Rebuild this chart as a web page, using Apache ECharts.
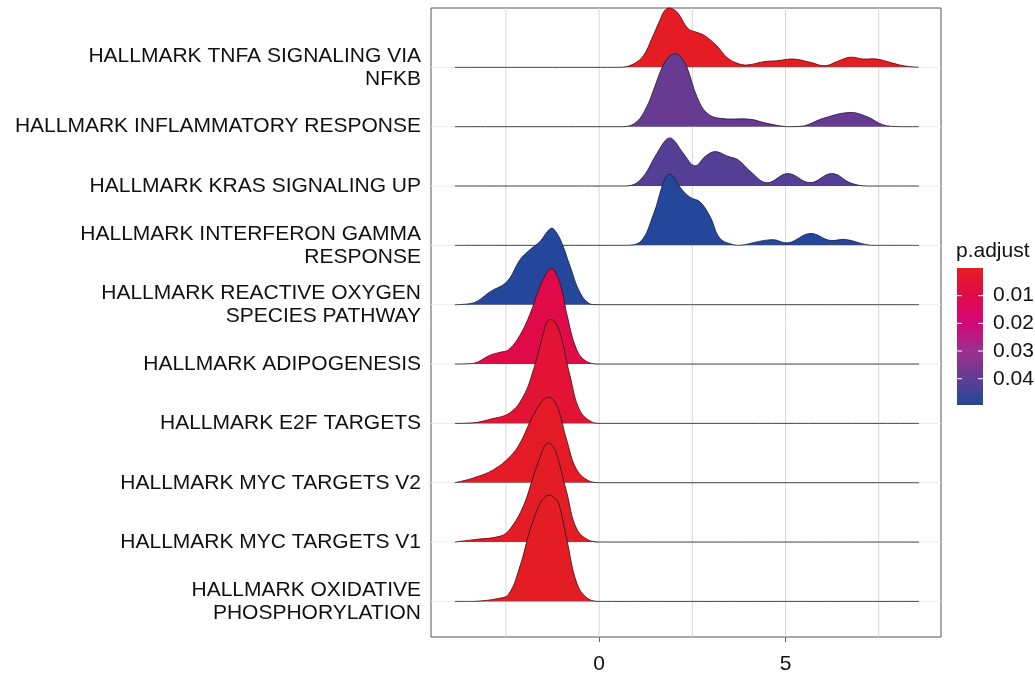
<!DOCTYPE html>
<html><head><meta charset="utf-8">
<script src="https://cdn.jsdelivr.net/npm/echarts@6/dist/echarts.min.js"></script>
<style>html,body{margin:0;padding:0;background:#fff}#c{width:1035px;height:673px}</style>
</head><body><div id="c"></div>
<script>
// Categories, top to bottom
const categories = [
  'HALLMARK TNFA SIGNALING VIA NFKB',
  'HALLMARK INFLAMMATORY RESPONSE',
  'HALLMARK KRAS SIGNALING UP',
  'HALLMARK INTERFERON GAMMA RESPONSE',
  'HALLMARK REACTIVE OXYGEN SPECIES PATHWAY',
  'HALLMARK ADIPOGENESIS',
  'HALLMARK E2F TARGETS',
  'HALLMARK MYC TARGETS V2',
  'HALLMARK MYC TARGETS V1',
  'HALLMARK OXIDATIVE PHOSPHORYLATION'
];
const pAdjust = [0.0005, 0.039, 0.042, 0.049, 0.049, 0.0105, 0.0055, 0.0015, 0.001, 0.0005];

// Density ridges: [x value, height in row units]
const ridgeTNFA = [[-3.87,0],[0.56,0],[0.92,0.056],[1.19,0.2],[1.41,0.48],[1.64,0.81],[1.75,0.95],[1.88,1.0],[2.01,0.97],[2.13,0.9],[2.39,0.65],[2.62,0.59],[2.84,0.53],[3.16,0.36],[3.42,0.17],[3.69,0.072],[3.96,0.039],[4.41,0.095],[4.76,0.11],[5.21,0.14],[5.66,0.084],[6.06,0.027],[6.37,0.095],[6.73,0.17],[7.09,0.14],[7.44,0.14],[7.80,0.084],[8.16,0.027],[8.58,0]];
const ridgeInflam = [[-3.87,0],[0.65,0],[1.01,0.084],[1.28,0.34],[1.46,0.62],[1.72,1.04],[1.90,1.19],[2.04,1.23],[2.18,1.18],[2.35,1.01],[2.62,0.51],[2.89,0.23],[3.24,0.14],[4.05,0.125],[4.50,0.056],[5.03,0],[5.48,0.01],[6.01,0.14],[6.73,0.24],[7.18,0.17],[7.62,0.03],[8.07,0],[8.58,0]];
const ridgeKRAS = [[-3.87,0],[0.70,0],[1.10,0.1],[1.55,0.55],[1.78,0.77],[1.90,0.81],[2.02,0.76],[2.26,0.55],[2.57,0.34],[2.85,0.50],[3.11,0.58],[3.45,0.50],[3.73,0.44],[4.05,0.25],[4.50,0.056],[5.06,0.21],[5.66,0.056],[6.24,0.21],[6.75,0.05],[7.18,0],[8.58,0]];
const ridgeIFNG = [[-3.87,0],[0.65,0],[1.10,0.056],[1.46,0.53],[1.68,0.98],[1.78,1.14],[1.89,1.20],[2.00,1.15],[2.17,0.98],[2.44,0.81],[2.71,0.73],[2.98,0.48],[3.24,0.12],[3.60,0.01],[3.78,0],[4.63,0.096],[5.08,0.045],[5.66,0.20],[6.19,0.084],[6.60,0.10],[7.18,0.01],[7.44,0],[8.58,0]];
const ridgeROS = [[-3.87,0],[-3.37,0.03],[-2.92,0.22],[-2.47,0.39],[-2.12,0.76],[-1.85,0.93],[-1.58,1.07],[-1.38,1.24],[-1.27,1.29],[-1.16,1.23],[-1.00,1.04],[-0.78,0.65],[-0.51,0.20],[-0.24,0.01],[0.03,0],[8.58,0]];
const ridgeAdipo = [[-3.87,0],[-3.37,0.01],[-2.92,0.15],[-2.65,0.20],[-2.43,0.24],[-2.12,0.49],[-1.85,0.85],[-1.62,1.25],[-1.42,1.52],[-1.29,1.61],[-1.16,1.53],[-0.98,1.2],[-0.87,0.85],[-0.60,0.24],[-0.33,0.04],[0.03,0],[8.58,0]];
const ridgeE2F = [[-3.87,0],[-3.37,0.01],[-2.92,0.07],[-2.39,0.18],[-2.03,0.46],[-1.76,0.91],[-1.49,1.53],[-1.40,1.70],[-1.29,1.75],[-1.18,1.70],[-1.05,1.53],[-0.78,0.80],[-0.51,0.21],[-0.15,0.01],[0.10,0],[8.58,0]];
const ridgeMYCV2 = [[-3.87,0],[-3.37,0.08],[-2.83,0.22],[-2.39,0.44],[-2.12,0.67],[-1.85,1.03],[-1.58,1.34],[-1.47,1.41],[-1.36,1.44],[-1.24,1.40],[-1.09,1.23],[-0.87,0.72],[-0.60,0.22],[-0.24,0.02],[0.10,0],[8.58,0]];
const ridgeMYCV1 = [[-3.87,0],[-3.37,0.04],[-2.65,0.10],[-2.39,0.22],[-2.03,0.61],[-1.76,1.12],[-1.54,1.51],[-1.46,1.62],[-1.36,1.67],[-1.25,1.62],[-1.13,1.46],[-0.87,0.84],[-0.60,0.22],[-0.24,0.02],[0.10,0],[8.58,0]];
const ridgeOXPHOS = [[-3.87,0],[-3.37,0],[-2.74,0.045],[-2.43,0.12],[-2.12,0.60],[-1.85,1.21],[-1.58,1.66],[-1.46,1.75],[-1.34,1.79],[-1.22,1.75],[-1.09,1.66],[-0.87,1.05],[-0.60,0.31],[-0.33,0.06],[0.03,0],[8.58,0]];
const ridges = [ridgeTNFA, ridgeInflam, ridgeKRAS, ridgeIFNG, ridgeROS, ridgeAdipo, ridgeE2F, ridgeMYCV2, ridgeMYCV1, ridgeOXPHOS];

const xTickLabels = [0, 5];
const xGridValues = [-2.5, 0, 2.5, 5, 7.5];
const legendBreaks = [0.01, 0.02, 0.03, 0.04];
const legendMin = 0, legendMax = 0.0495;

// colour scale for p.adjust
const colorStops = [[0,'#E41E22'],[0.01,'#E20A46'],[0.02,'#D3077A'],[0.03,'#9E2F8D'],[0.04,'#623C92'],[0.0495,'#22489B']];
function hex2rgb(h){return [parseInt(h.substr(1,2),16),parseInt(h.substr(3,2),16),parseInt(h.substr(5,2),16)];}
function pToColor(p){
  for (let k=0;k<colorStops.length-1;k++){
    const a=colorStops[k], b=colorStops[k+1];
    if (p<=b[0]){
      const t=Math.max(0,(p-a[0])/(b[0]-a[0]));
      const ca=hex2rgb(a[1]), cb=hex2rgb(b[1]);
      return 'rgb('+ca.map((v,j)=>Math.round(v+(cb[j]-v)*t)).join(',')+')';
    }
  }
  return colorStops[colorStops.length-1][1];
}
function wrap(s,w){
  const words=s.split(' '); const lines=[]; let cur='';
  words.forEach(wd=>{ if(!cur) cur=wd; else if((cur+' '+wd).length<=w) cur+=' '+wd; else {lines.push(cur); cur=wd;} });
  if(cur) lines.push(cur); return lines.join('\n');
}
const N = categories.length;
const rowValues = categories.map((c,i)=>N-i);
const FONT = 'Liberation Sans, Arial, sans-serif';
const TXT = '#111';

const chart = echarts.init(document.getElementById('c'), null, {renderer:'canvas'});
chart.setOption({
  animation:false,
  backgroundColor:'#fff',
  textStyle:{fontFamily:FONT},
  grid:[
    {left:431, top:8, width:510, height:629, show:true, borderColor:'#555', borderWidth:1, backgroundColor:'transparent', containLabel:false, outerBoundsMode:'none'},
    {left:957, top:268, width:26, height:137, containLabel:false, outerBoundsMode:'none'}
  ],
  xAxis:[
    {type:'value', gridIndex:0, min:-4.51, max:9.17,
     axisLine:{show:false},
     axisTick:{show:true, customValues:xTickLabels, length:5, lineStyle:{color:'#666'}},
     axisLabel:{customValues:xTickLabels, fontSize:21, color:TXT, margin:17, fontFamily:FONT},
     splitLine:{show:false}},
    {type:'value', gridIndex:1, min:0, max:1, show:false}
  ],
  yAxis:[
    {type:'value', gridIndex:0, min:0.4, max:11.0,
     axisLine:{show:false},
     axisTick:{show:true, customValues:rowValues, length:5, lineStyle:{color:'#bbb'}},
     axisLabel:{customValues:rowValues, fontSize:21, color:TXT, margin:10, lineHeight:23, fontFamily:FONT,
       formatter:function(v){ const i=N-Math.round(v); return (i>=0&&i<N)?wrap(categories[i],30):''; }},
     splitLine:{show:false}},
    {type:'value', gridIndex:1, min:legendMin, max:legendMax, inverse:true, position:'right',
     axisLine:{show:false}, axisTick:{show:false}, splitLine:{show:false},
     axisLabel:{customValues:legendBreaks, fontSize:21, color:TXT, margin:10, fontFamily:FONT,
       formatter:function(v){return v.toFixed(2);}}}
  ],
  graphic:[
    {type:'text', left:956, top:241, style:{text:'p.adjust', font:'21px '+FONT, fill:TXT}}
  ],
  series:[
    {type:'custom', xAxisIndex:0, yAxisIndex:0, silent:true, z:1, data:[[0]],
     renderItem:function(params, api){
       const cs=params.coordSys; const ch=[];
       rowValues.forEach(v=>{ const p=api.coord([0,v]); ch.push({type:'line', shape:{x1:cs.x,y1:p[1],x2:cs.x+cs.width,y2:p[1]}, style:{stroke:'#EEEEEE', lineWidth:1}}); });
       xGridValues.forEach(v=>{ const p=api.coord([v,1]); ch.push({type:'line', shape:{x1:p[0],y1:cs.y,x2:p[0],y2:cs.y+cs.height}, style:{stroke:'#D8D8D8', lineWidth:1}}); });
       return {type:'group', children:ch};
     }},
    {type:'custom', xAxisIndex:0, yAxisIndex:0, silent:true, z:2,
     data:categories.map((c,i)=>[i]),
     renderItem:function(params, api){
       const i=params.dataIndex; const level=N-i;
       const pts=ridges[i].map(p=>api.coord([p[0], level+p[1]]));
       const c=[pts[0],pts[0]];
       return {type:'group', children:[
         {type:'polygon', z2:i*2, shape:{points:pts, smooth:0.4, smoothConstraint:c}, style:{fill:pToColor(pAdjust[i]), stroke:null}},
         {type:'polyline', z2:i*2+1, shape:{points:pts, smooth:0.4, smoothConstraint:c}, style:{stroke:'#1a1a1a', lineWidth:0.8, fill:null}}
       ]};
     }},
    {type:'custom', xAxisIndex:1, yAxisIndex:1, silent:true, z:2, data:[[0]],
     renderItem:function(params, api){
       const a=api.coord([0,legendMin]), b=api.coord([1,legendMax]);
       const stops=colorStops.map(s=>({offset:(s[0]-legendMin)/(legendMax-legendMin), color:s[1]}));
       const ch=[{type:'rect', shape:{x:a[0], y:a[1], width:b[0]-a[0], height:b[1]-a[1]},
         style:{fill:new echarts.graphic.LinearGradient(0,0,0,1,stops)}}];
       legendBreaks.forEach(v=>{ const p=api.coord([0,v]);
         ch.push({type:'line', shape:{x1:a[0],y1:p[1],x2:a[0]+5,y2:p[1]}, style:{stroke:'#fff', lineWidth:1}});
         ch.push({type:'line', shape:{x1:b[0]-5,y1:p[1],x2:b[0],y2:p[1]}, style:{stroke:'#fff', lineWidth:1}});
       });
       return {type:'group', children:ch};
     }}
  ]
});
</script></body></html>
